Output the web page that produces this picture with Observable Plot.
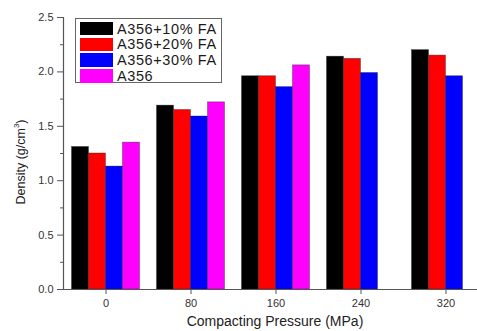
<!DOCTYPE html>
<html>
<head>
<meta charset="utf-8">
<script src="https://cdn.jsdelivr.net/npm/d3@7"></script>
<script src="https://cdn.jsdelivr.net/npm/@observablehq/plot@0.6"></script>
<style>
  html, body { margin: 0; padding: 0; background: #fff; overflow: hidden; }
  #wrap { position: relative; width: 477px; height: 331px; font-family: "Liberation Sans", Arial, sans-serif; }
  #legend { position: absolute; left: 75px; top: 18px; width: 147px; height: 65px; border: 1px solid #666; background: #fff; box-sizing: border-box; }
  .row { position: absolute; left: 4px; height: 14px; display: flex; align-items: center; }
  .sw { width: 33px; height: 13.5px; margin-right: 4px; }
  .lab { font-size: 14.5px; letter-spacing: 0.6px; color: #1a1a1a; white-space: nowrap; line-height: 14px; }
  #ylab { position: absolute; left: 20px; top: 162px; transform: translate(-50%, -50%) rotate(-90deg); font-size: 12.5px; color: #222; white-space: nowrap; }
  #xlab { position: absolute; left: 275px; top: 313px; transform: translateX(-50%); font-size: 14px; color: #222; white-space: nowrap; }
</style>
</head>
<body>
<div id="wrap"></div>
<script>
const pressures = ["0", "80", "160", "240", "320"];
const seriesNames = ["A356+10% FA", "A356+20% FA", "A356+30% FA", "A356"];
const colors = ["#000000", "#ff0000", "#0000ff", "#ff00ff"];
const fa10 = [1.31, 1.69, 1.96, 2.14, 2.20];
const fa20 = [1.25, 1.65, 1.96, 2.12, 2.15];
const fa30 = [1.13, 1.59, 1.86, 1.99, 1.96];
const a356 = [1.35, 1.72, 2.06, null, null];
const yTicks = [0, 0.5, 1.0, 1.5, 2.0, 2.5];
const yMinor = [0.25, 0.75, 1.25, 1.75, 2.25];

const seriesValues = [fa10, fa20, fa30, a356];
const groupWidth = 0.8;
const barW = groupWidth / seriesNames.length;
const data = [];
seriesValues.forEach((vals, j) => {
  vals.forEach((v, i) => {
    if (v == null) return;
    const x1 = i - groupWidth / 2 + j * barW;
    data.push({series: seriesNames[j], i, x1, x2: x1 + barW, value: v});
  });
});

const plot = Plot.plot({
  width: 477,
  height: 331,
  marginLeft: 63,
  marginRight: -11,
  marginTop: 17,
  marginBottom: 42,
  style: {fontFamily: "Liberation Sans, Arial, sans-serif", fontSize: "11px", color: "#333", background: "transparent"},
  x: {domain: [-0.5, pressures.length - 0.5], axis: null},
  y: {domain: [0, 2.5], axis: null},
  color: {domain: seriesNames, range: colors},
  marks: [
    Plot.rectY(data, {x1: "x1", x2: "x2", y1: 0, y2: "value", fill: "series", stroke: "#222", strokeWidth: 0.6, strokeOpacity: 0.6}),
    Plot.ruleX([-0.5], {stroke: "#555", strokeWidth: 1.2}),
    Plot.ruleY([0], {stroke: "#555", strokeWidth: 1.2}),
    Plot.axisY({ticks: yTicks, tickFormat: d => d.toFixed(1), tickSize: 6, tickPadding: 4, label: null, stroke: "#555", fill: "#333"}),
    Plot.axisY({ticks: yMinor, tickFormat: () => "", tickSize: 3, label: null, stroke: "#555"}),
    Plot.axisX({ticks: d3.range(pressures.length), tickFormat: i => pressures[i], tickSize: 5, tickPadding: 5, label: null, stroke: "#555", fill: "#333"})
  ]
});

const wrap = document.getElementById("wrap");
wrap.appendChild(plot);

const legend = document.createElement("div");
legend.id = "legend";
seriesNames.forEach((name, j) => {
  const row = document.createElement("div");
  row.className = "row";
  row.style.top = (2.5 + j * 15.8) + "px";
  const sw = document.createElement("div");
  sw.className = "sw";
  sw.style.background = colors[j];
  const lab = document.createElement("span");
  lab.className = "lab";
  lab.textContent = name;
  row.appendChild(sw);
  row.appendChild(lab);
  legend.appendChild(row);
});
wrap.appendChild(legend);

const ylab = document.createElement("div");
ylab.id = "ylab";
ylab.innerHTML = "Density (g/cm<sup style=\"font-size:8px\">3</sup>)";
wrap.appendChild(ylab);

const xlab = document.createElement("div");
xlab.id = "xlab";
xlab.textContent = "Compacting Pressure (MPa)";
wrap.appendChild(xlab);
</script>
</body>
</html>
